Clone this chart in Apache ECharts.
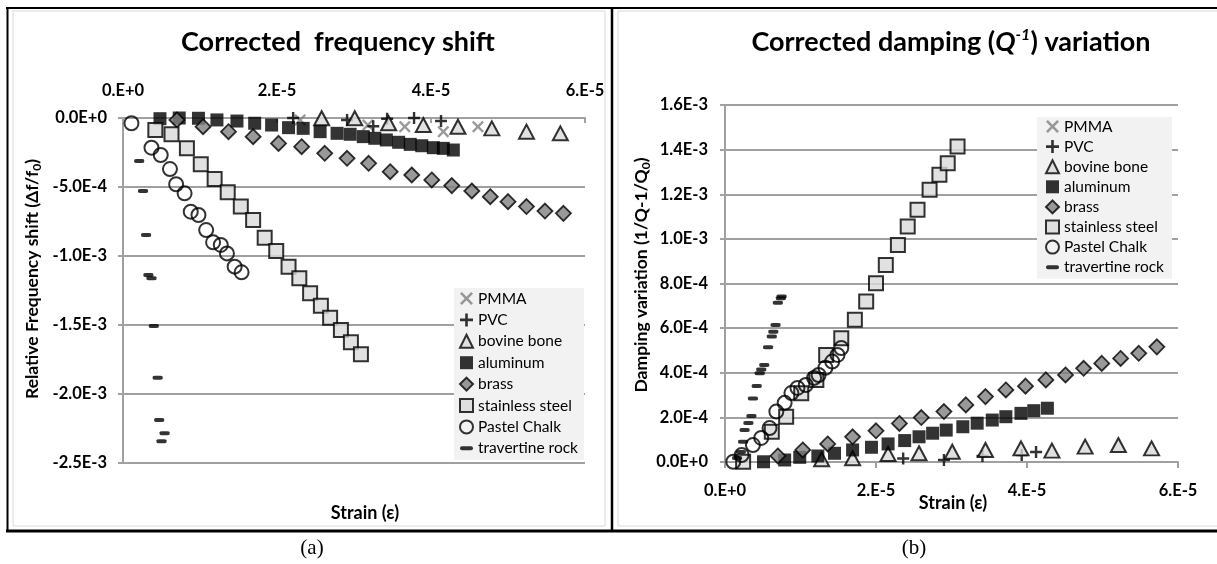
<!DOCTYPE html>
<html>
<head>
<meta charset="utf-8">
<script src="https://cdn.jsdelivr.net/npm/echarts@6/dist/echarts.min.js"></script>
<style>
html,body{margin:0;padding:0;background:#fff;}
#chart{width:1217px;height:564px;}
</style>
</head>
<body>
<div id="chart"></div>
<script>
// Values are in micro-units: strain x 1e-6 and response x 1e-6
const seriesNames = ['PMMA','PVC','bovine bone','aluminum','brass','stainless steel','Pastel Chalk','travertine rock'];

// Tick labels
const xTickLabels = ['0.E+0','2.E-5','4.E-5','6.E-5'];
const freqTickLabels = {'0':'0.0E+0','-500':'-5.0E-4','-1000':'-1.0E-3','-1500':'-1.5E-3','-2000':'-2.0E-3','-2500':'-2.5E-3'};
const dampTickLabels = {'0':'0.0E+0','200':'2.0E-4','400':'4.0E-4','600':'6.0E-4','800':'8.0E-4','1000':'1.0E-3','1200':'1.2E-3','1400':'1.4E-3','1600':'1.6E-3'};

// (a) Relative frequency shift  [strain, df/f0]
const freqPMMA  = [[23.0,-14],[31.8,-51],[36.6,-63],[41.6,-99],[46.1,-63]];
const freqPVC   = [[22.1,0],[29.1,-14],[32.5,-60],[34.3,-5],[37.8,0],[41.3,-22]];
const freqBone  = [[25.8,-2],[30.1,-2],[34.5,-38],[39.0,-51],[43.5,-63],[47.9,-75],[52.4,-99],[56.8,-111]];
const freqAl    = [[4.8,-5],[7.3,0],[9.8,-2],[12.2,-14],[14.8,-22],[17.1,-38],[19.3,-51],[21.5,-70],[23.4,-75],[25.6,-99],[27.8,-111],[29.5,-118],[31.2,-135],[32.7,-147],[34.2,-159],[35.8,-176],[37.3,-191],[38.8,-201],[40.3,-215],[41.6,-220],[42.9,-232]];
const freqBrass = [[7.0,-14],[10.4,-63],[13.7,-99],[16.9,-135],[20.2,-184],[23.2,-208],[26.2,-256],[29.1,-292],[31.9,-328],[34.7,-389],[37.5,-413],[40.1,-449],[42.7,-490],[45.3,-529],[47.7,-570],[50.0,-606],[52.4,-642],[54.8,-674],[57.2,-691]];
const freqSteel = [[4.2,-87],[6.3,-118],[8.3,-220],[10.1,-335],[11.9,-442],[13.6,-538],[15.3,-642],[16.9,-739],[18.4,-867],[19.9,-964],[21.5,-1077],[22.9,-1161],[24.3,-1270],[25.7,-1360],[26.9,-1447],[28.3,-1536],[29.6,-1625],[30.9,-1712]];
const freqChalk = [[1.1,-38],[3.7,-215],[4.9,-268],[6.1,-370],[6.9,-480],[8.0,-546],[8.8,-679],[9.8,-703],[10.8,-812],[11.7,-901],[12.7,-920],[13.5,-981],[14.5,-1077],[15.4,-1118]];
const freqTrav  = [[2.1,-312],[2.6,-529],[3.0,-848],[3.3,-1138],[3.7,-1162],[4.0,-1508],[4.5,-1882],[4.7,-2188],[5.4,-2285],[5.0,-2343]];

// (b) Damping variation  [strain, 1/Q-1/Q0]
const dampPMMA  = [[31.7,-4],[36.6,-3]];
const dampPVC   = [[23.6,16],[29.0,9],[34.1,27],[39.3,31],[41.2,45]];
const dampBone  = [[8.4,-8],[12.8,12],[16.9,17],[21.6,36],[25.7,39],[30.1,46],[34.5,54],[39.2,61],[43.3,51],[47.7,69],[52.1,76],[56.5,61]];
const dampAl    = [[5.1,1],[7.9,9],[9.9,21],[12.3,27],[14.5,39],[16.9,54],[19.4,66],[21.6,81],[23.8,96],[25.7,113],[27.5,129],[29.3,143],[31.5,158],[33.4,174],[35.4,188],[37.2,203],[39.2,218],[40.9,230],[42.7,241]];
const dampBrass = [[7.0,27],[10.3,54],[13.6,81],[16.9,113],[20.0,140],[23.1,173],[26.0,199],[29.0,226],[31.9,256],[34.5,293],[37.2,323],[39.8,340],[42.5,368],[45.1,390],[47.5,420],[49.9,442],[52.4,464],[54.8,487],[57.2,516]];
const dampSteel = [[2.4,1],[6.2,136],[8.1,203],[10.1,308],[12.1,368],[13.4,480],[15.4,555],[17.2,637],[18.7,719],[20.0,801],[21.3,883],[22.9,973],[24.2,1055],[25.5,1130],[27.1,1220],[28.4,1287],[29.5,1339],[30.8,1414]];
const dampChalk = [[1.1,1],[2.2,31],[3.7,76],[4.8,108],[5.9,152],[6.8,226],[7.9,265],[8.8,309],[9.6,332],[10.7,345],[11.8,377],[12.4,390],[13.3,422],[14.2,450],[14.9,480],[15.4,511]];
const dampTrav  = [[1.6,18],[2.1,45],[2.4,91],[2.6,143],[3.1,175],[3.5,206],[3.7,285],[4.2,341],[4.6,398],[4.8,415],[5.2,435],[5.7,514],[6.2,562],[6.4,584],[6.7,614],[7.0,714],[7.4,734],[7.5,742]];

const freqData = [freqPMMA, freqPVC, freqBone, freqAl, freqBrass, freqSteel, freqChalk, freqTrav];
const dampData = [dampPMMA, dampPVC, dampBone, dampAl, dampBrass, dampSteel, dampChalk, dampTrav];

const FONT = 'Lato';
const GRAY = '#a0a0a0';
const PLUS = 'path://M4,0H6V4H10V6H6V10H4V6H0V4H4Z';
const CROSS = 'path://M1.4,0L5,3.6L8.6,0L10,1.4L6.4,5L10,8.6L8.6,10L5,6.4L1.4,10L0,8.6L3.6,5L0,1.4Z';
const DASH = 'path://M1.5,0H8.5A1.5,1.5 0 0 1 8.5,3H1.5A1.5,1.5 0 0 1 1.5,0Z';

const styles = [
  {symbol: CROSS, symbolSize: 12, itemStyle: {color: '#7f7f7f'}},
  {symbol: PLUS, symbolSize: 12, itemStyle: {color: '#000'}},
  {symbol: 'triangle', symbolSize: [15, 14], itemStyle: {color: '#d9d9d9', borderColor: '#000', borderWidth: 2}},
  {symbol: 'rect', symbolSize: 13, itemStyle: {color: '#000'}},
  {symbol: 'diamond', symbolSize: 15, itemStyle: {color: '#7f7f7f', borderColor: '#000', borderWidth: 1.8}},
  {symbol: 'rect', symbolSize: 14, itemStyle: {color: '#d9d9d9', borderColor: '#000', borderWidth: 2}},
  {symbol: 'circle', symbolSize: 14, itemStyle: {color: 'rgba(255,255,255,0)', borderColor: '#000', borderWidth: 2}},
  {symbol: 'roundRect', symbolSize: [10, 4], itemStyle: {color: '#000'}}
];

function makeSeries(dataSets, idx) {
  return dataSets.map((d, i) => Object.assign({
    type: 'scatter',
    name: seriesNames[i],
    xAxisIndex: idx, yAxisIndex: idx,
    data: d,
    animation: false,
    silent: true,
    emphasis: {disabled: true}
  }, JSON.parse(JSON.stringify(styles[i]))));
}

const legendData = seriesNames.map((n, i) => i === 7 ? {name: n, icon: DASH} : {name: n});

function legend(left, top, padding, gap) {
  return {
    orient: 'vertical', left: left, top: top, padding: padding, itemGap: gap,
    itemWidth: 13, itemHeight: 13, backgroundColor: '#f2f2f2', selectedMode: false,
    textStyle: {fontFamily: FONT, fontSize: 15.5, color: '#000', lineHeight: 17},
    data: legendData
  };
}

const axisLabelBase = {fontFamily: FONT, fontWeight: 'bold', fontSize: 16.5, color: '#000'};

const option = {
  animation: false,
  backgroundColor: '#fff',
  grid: [
    {left: 123, top: 118, width: 462, height: 345},
    {left: 725, top: 105, width: 453, height: 357}
  ],
  xAxis: [
    {type: 'value', gridIndex: 0, position: 'top', min: 0, max: 60, interval: 20,
      axisLine: {show: true, onZero: false, lineStyle: {color: GRAY, width: 2}},
      axisTick: {show: true, inside: true, length: 5, lineStyle: {color: GRAY, width: 2}},
      splitLine: {show: false},
      axisLabel: Object.assign({margin: 19, formatter: v => xTickLabels[Math.round(v / 20)]}, axisLabelBase)},
    {type: 'value', gridIndex: 1, position: 'bottom', min: 0, max: 60, interval: 20,
      axisLine: {show: true, onZero: false, lineStyle: {color: GRAY, width: 2}},
      axisTick: {show: true, inside: false, length: 6, lineStyle: {color: GRAY, width: 2}},
      splitLine: {show: false},
      axisLabel: Object.assign({margin: 20, formatter: v => xTickLabels[Math.round(v / 20)]}, axisLabelBase)}
  ],
  yAxis: [
    {type: 'value', gridIndex: 0, min: -2500, max: 0, interval: 500,
      axisLine: {show: true, onZero: false, lineStyle: {color: GRAY, width: 2}},
      axisTick: {show: true, length: 5, lineStyle: {color: GRAY, width: 2}},
      splitLine: {show: true, lineStyle: {color: GRAY, width: 2}},
      axisLabel: Object.assign({margin: 16, formatter: v => freqTickLabels[String(v)]}, axisLabelBase)},
    {type: 'value', gridIndex: 1, min: 0, max: 1600, interval: 200,
      axisLine: {show: true, onZero: false, lineStyle: {color: GRAY, width: 2}},
      axisTick: {show: true, length: 5, lineStyle: {color: GRAY, width: 2}},
      splitLine: {show: true, lineStyle: {color: GRAY, width: 2}},
      axisLabel: Object.assign({margin: 17, formatter: v => dampTickLabels[String(v)]}, axisLabelBase)}
  ],
  legend: [
    legend(454, 288, [2, 6, 3, 5], 4.4),
    legend(1037, 117, [1, 8, 3, 8], 3.1)
  ],
  series: makeSeries(freqData, 0).concat(makeSeries(dampData, 1)),
  graphic: [
    // frame lines of the figure table
    {type: 'rect', shape: {x: 13, y: 11, width: 592, height: 515}, style: {fill: 'none', stroke: '#d9d9d9', lineWidth: 1}, z: -10},
    {type: 'rect', shape: {x: 618, y: 11, width: 610, height: 515}, style: {fill: 'none', stroke: '#d9d9d9', lineWidth: 1}, z: -10},
    {type: 'line', shape: {x1: 6, y1: 8, x2: 1217, y2: 8}, style: {stroke: '#000', lineWidth: 2}},
    {type: 'line', shape: {x1: 6, y1: 531, x2: 1217, y2: 531}, style: {stroke: '#000', lineWidth: 3}},
    {type: 'line', shape: {x1: 7.5, y1: 8, x2: 7.5, y2: 531}, style: {stroke: '#000', lineWidth: 2}},
    {type: 'line', shape: {x1: 612, y1: 8, x2: 612, y2: 531}, style: {stroke: '#000', lineWidth: 2.5}},
    // titles
    {type: 'text', x: 338, y: 42, style: {text: 'Corrected  frequency shift', font: 'bold 27px Lato', fill: '#000', align: 'center', verticalAlign: 'middle'}},
    {type: 'text', x: 951, y: 42, style: {
      text: '{b|Corrected damping (}{i|Q}{s|-1}{b|) variation}',
      align: 'center', verticalAlign: 'middle', fill: '#000',
      rich: {
        b: {fontFamily: FONT, fontWeight: 'bold', fontSize: 27, lineHeight: 31, verticalAlign: 'middle'},
        i: {fontFamily: FONT, fontWeight: 'bold', fontStyle: 'italic', fontSize: 27, lineHeight: 31, verticalAlign: 'middle'},
        s: {fontFamily: FONT, fontWeight: 'bold', fontStyle: 'italic', fontSize: 16, lineHeight: 16, verticalAlign: 'top'}
      }}},
    // axis names
    {type: 'text', x: 32, y: 279, rotation: Math.PI / 2, style: {
      text: '{b|Relative Frequency shift (Δf/f}{u|0}{b|)}',
      align: 'center', verticalAlign: 'middle', fill: '#000',
      rich: {
        b: {fontFamily: FONT, fontWeight: 'bold', fontSize: 17.5, lineHeight: 22, verticalAlign: 'middle'},
        u: {fontFamily: FONT, fontWeight: 'bold', fontSize: 12, lineHeight: 12, verticalAlign: 'bottom'}
      }}},
    {type: 'text', x: 641, y: 275, rotation: Math.PI / 2, style: {
      text: '{b|Damping variation (1/Q-1/Q}{u|0}{b|)}',
      align: 'center', verticalAlign: 'middle', fill: '#000',
      rich: {
        b: {fontFamily: FONT, fontWeight: 'bold', fontSize: 17.5, lineHeight: 22, verticalAlign: 'middle'},
        u: {fontFamily: FONT, fontWeight: 'bold', fontSize: 12, lineHeight: 12, verticalAlign: 'bottom'}
      }}},
    {type: 'text', x: 365, y: 513, style: {text: 'Strain (ε)', font: 'bold 18px Lato', fill: '#000', align: 'center', verticalAlign: 'middle'}},
    {type: 'text', x: 953, y: 503, style: {text: 'Strain (ε)', font: 'bold 18px Lato', fill: '#000', align: 'center', verticalAlign: 'middle'}},
    // panel labels
    {type: 'text', x: 312, y: 548, style: {text: '(a)', font: '21px "Liberation Serif"', fill: '#000', align: 'center', verticalAlign: 'middle'}},
    {type: 'text', x: 914, y: 548, style: {text: '(b)', font: '21px "Liberation Serif"', fill: '#000', align: 'center', verticalAlign: 'middle'}}
  ]
};

const chart = echarts.init(document.getElementById('chart'), null, {renderer: 'canvas'});
chart.setOption(option);
</script>
</body>
</html>
